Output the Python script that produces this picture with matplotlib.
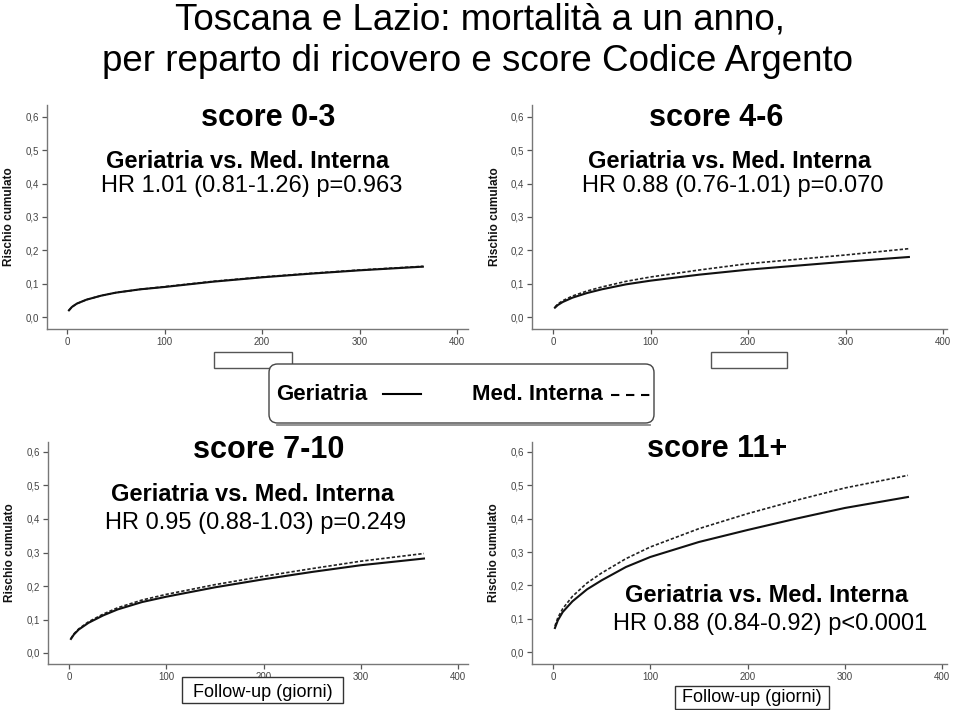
import matplotlib
matplotlib.use("Agg")
import matplotlib.pyplot as plt
from matplotlib.patches import Rectangle, FancyBboxPatch
from matplotlib.lines import Line2D

W, H = 959, 710
plt.rcParams['font.family'] = ['Liberation Sans', 'DejaVu Sans']

# ---------------- data ----------------
days = [2, 5, 10, 20, 35, 50, 75, 100, 150, 200, 250, 300, 365]

ger_0_3 = [0.020, 0.030, 0.040, 0.052, 0.064, 0.073, 0.083, 0.090, 0.106, 0.119, 0.130, 0.140, 0.151]
med_0_3 = [0.020, 0.030, 0.040, 0.052, 0.064, 0.073, 0.083, 0.091, 0.107, 0.120, 0.131, 0.141, 0.152]

ger_4_6 = [0.028, 0.036, 0.045, 0.058, 0.072, 0.083, 0.098, 0.109, 0.127, 0.142, 0.154, 0.166, 0.180]
med_4_6 = [0.030, 0.039, 0.049, 0.063, 0.078, 0.090, 0.107, 0.120, 0.141, 0.160, 0.173, 0.186, 0.205]

ger_7_10 = [0.042, 0.055, 0.070, 0.090, 0.112, 0.130, 0.152, 0.168, 0.196, 0.220, 0.242, 0.262, 0.282]
med_7_10 = [0.043, 0.057, 0.072, 0.093, 0.116, 0.135, 0.158, 0.175, 0.204, 0.229, 0.252, 0.274, 0.297]

ger_11 = [0.072, 0.095, 0.120, 0.152, 0.188, 0.215, 0.255, 0.285, 0.330, 0.366, 0.400, 0.432, 0.465]
med_11 = [0.078, 0.103, 0.130, 0.167, 0.207, 0.237, 0.280, 0.315, 0.370, 0.415, 0.455, 0.492, 0.530]

panel_titles = ["score 0-3", "score 4-6", "score 7-10", "score 11+"]
comparison = "Geriatria vs. Med. Interna"
hr_texts = ["HR 1.01 (0.81-1.26) p=0.963",
            "HR 0.88 (0.76-1.01) p=0.070",
            "HR 0.95 (0.88-1.03) p=0.249",
            "HR 0.88 (0.84-0.92) p<0.0001"]
yticks = [0.0, 0.1, 0.2, 0.3, 0.4, 0.5, 0.6]
ytick_labels = ["0,0", "0,1", "0,2", "0,3", "0,4", "0,5", "0,6"]
xticks = [0, 100, 200, 300, 400]
ylabel = "Rischio cumulato"
xlabel = "Follow-up (giorni)"
title_lines = ["Toscana e Lazio: mortalità a un anno,",
               "per reparto di ricovero e score Codice Argento"]
legend_labels = ["Geriatria", "Med. Interna"]

series = [(ger_0_3, med_0_3), (ger_4_6, med_4_6), (ger_7_10, med_7_10), (ger_11, med_11)]

# ---------------- layout helpers ----------------
fig = plt.figure(figsize=(W / 100, H / 100), dpi=100)
fig.patch.set_facecolor("white")


def fx(x):
    return x / W


def fy(y):
    return 1 - y / H


# axes in pixels: left, right, top, bottom, x0px, x400px, y0px, y06px
panels = [
    (47, 468, 105, 329, 67, 457, 317, 117),
    (532, 947, 105, 329, 553, 943, 317, 117),
    (48, 468, 442, 664, 69, 458, 653, 452),
    (532, 947, 442, 664, 553, 942, 652, 452),
]
ylabel_x = [9, 495, 10, 494]

for i, (l, r, t, b, x0, x4, y0, y6) in enumerate(panels):
    ax = fig.add_axes([fx(l), fy(b), (r - l) / W, (b - t) / H])
    sx = (x4 - x0) / 400.0
    sy = (y0 - y6) / 0.6
    ax.set_xlim(-(x0 - l) / sx, (r - x0) / sx)
    ax.set_ylim(-(b - y0) / sy, (y0 - t) / sy)
    ger, med = series[i]
    ax.plot(days, med, color="#222222", lw=1.2, dashes=(2.0, 1.2))
    ax.plot(days, ger, color="#111111", lw=1.5)
    for s in ["top", "right"]:
        ax.spines[s].set_visible(False)
    for s in ["left", "bottom"]:
        ax.spines[s].set_color("#777777")
        ax.spines[s].set_linewidth(1.0)
    ax.set_xticks(xticks)
    ax.set_xticklabels([str(v) for v in xticks])
    ax.set_yticks(yticks)
    ax.set_yticklabels(ytick_labels)
    ax.tick_params(axis="both", direction="out", length=3.5, width=0.9,
                   color="#555555", labelsize=7, labelcolor="#444444", pad=2)
    ax.patch.set_alpha(0)
    fig.text(fx(ylabel_x[i]), fy((t + b) / 2), ylabel, rotation=90,
             ha="center", va="center", fontsize=8.5, fontweight="bold", color="#111111")

# ---------------- titles ----------------
fig.text(fx(480), fy(30), title_lines[0], ha="center", va="baseline",
         fontsize=26.5, color="black")
fig.text(fx(477), fy(71), title_lines[1], ha="center", va="baseline",
         fontsize=26.5, color="black")

# panel annotations: (title x, title baseline, comp x, comp baseline, hr x, hr baseline)
annots = [
    (268, 126, 248, 168, 252, 192),
    (716, 126, 730, 168, 733, 192),
    (269, 458, 253, 501, 256, 529),
    (717, 457, 767, 602, 770, 630),
]
for i, (tx, ty, cx, cy, hx, hy) in enumerate(annots):
    fig.text(fx(tx), fy(ty), panel_titles[i], ha="center", va="baseline",
             fontsize=22, fontweight="bold", color="black")
    fig.text(fx(cx), fy(cy), comparison, ha="center", va="baseline",
             fontsize=17, fontweight="bold", color="black")
    fig.text(fx(hx), fy(hy), hr_texts[i], ha="center", va="baseline",
             fontsize=17, color="black")

# ---------------- small empty label boxes (top row) ----------------
for (x1, x2) in [(214, 292), (711, 787)]:
    fig.add_artist(Rectangle((fx(x1), fy(368)), (x2 - x1) / W, 16 / H,
                             transform=fig.transFigure, fill=False,
                             edgecolor="#555555", lw=1.0))

# ---------------- legend box ----------------
fig.add_artist(Line2D([fx(277), fx(650)], [fy(425), fy(425)], transform=fig.transFigure,
                      color="#8a8a8a", lw=1.3))
fig.add_artist(FancyBboxPatch((fx(269), fy(423)), (654 - 269) / W, (423 - 364) / H,
                              boxstyle="round,pad=0,rounding_size=0.009",
                              transform=fig.transFigure, facecolor="white",
                              edgecolor="#444444", lw=1.0, mutation_aspect=W / H))
fig.text(fx(276), fy(400), legend_labels[0], ha="left", va="baseline",
         fontsize=16, fontweight="bold", color="black")
fig.add_artist(Line2D([fx(383), fx(421)], [fy(394), fy(394)], transform=fig.transFigure,
                      color="black", lw=1.5))
fig.text(fx(472), fy(400), legend_labels[1], ha="left", va="baseline",
         fontsize=16, fontweight="bold", color="black")
fig.add_artist(Line2D([fx(611), fx(652)], [fy(395), fy(395)], transform=fig.transFigure,
                      color="black", lw=1.5, dashes=(4, 3.2)))

# ---------------- x label boxes (bottom row) ----------------
for (x1, x2, y1, y2, base) in [(182, 343, 677, 703, 697), (675, 829, 686, 709, 702)]:
    fig.add_artist(Rectangle((fx(x1), fy(y2)), (x2 - x1) / W, (y2 - y1) / H,
                             transform=fig.transFigure, fill=True, facecolor="white",
                             edgecolor="#333333", lw=1.0))
    fig.text(fx((x1 + x2) / 2), fy(base), xlabel, ha="center", va="baseline",
             fontsize=13, color="black")

fig.savefig("out.png", dpi=100, facecolor="white")
